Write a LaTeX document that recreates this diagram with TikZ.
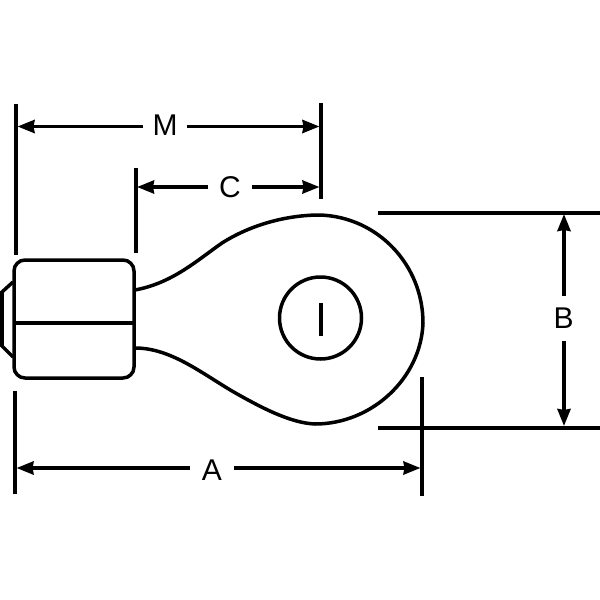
\documentclass[tikz,border=0pt]{standalone}
\usepackage{fontspec}
\setmainfont{Liberation Sans}
\usetikzlibrary{arrows.meta,positioning}

\begin{document}
\begin{tikzpicture}[x=1pt,y=-1pt,line width=3.5pt,
                    >={Stealth[length=17pt,width=13pt,inset=1pt]}]
  \tikzstyle{dimline}=[->,shorten >=0pt]
  \tikzstyle{extline}=[line width=3.2pt]
  \tikzstyle{dimlabel}=[inner sep=0pt,minimum width=40pt,minimum height=30pt,font=\fontsize{30}{30}\selectfont]

  \useasboundingbox (0,0) rectangle (600,600);

  % terminal outline
  \coordinate (T1) at (135,290);
  \coordinate (T2) at (135,348);
  \draw (T1) .. controls (172,283) and (195,262) .. (222,243)
             .. controls (252,224) and (288,215) .. (320,215)
             .. controls (378,217) and (423,265) .. (423,323)
             .. controls (421,378) and (372,424) .. (315,424)
             .. controls (290,423) and (260,407) .. (232,391)
             .. controls (200,372) and (170,348) .. (T2);

  % barrel
  \node[draw,rounded corners=11pt,minimum width=120pt,minimum height=118pt,inner sep=0pt] (barrel) at (74,319) {};
  \coordinate (midL) at (14,323);
  \coordinate (midR) at (134,323);
  \draw (midL) -- (midR);
  \coordinate (nub1) at (13,282);
  \coordinate (nub2) at (2,292);
  \coordinate (nub3) at (2,346);
  \coordinate (nub4) at (13,357);
  \draw (nub1) -- (nub2) -- (nub3) -- (nub4);

  % hole
  \node[draw,circle,minimum size=82pt,inner sep=0pt] (hole) at (320.5,318) {};
  \coordinate (slitU) at (321,303);
  \coordinate (slitD) at (321,336);
  \draw (slitU) -- (slitD);

  % extension lines
  \coordinate (Mu) at (16,104);
  \coordinate (Md) at (16,255);
  \coordinate (Ru) at (321,103);
  \coordinate (Rd) at (321,199);
  \coordinate (Cu) at (136,168);
  \coordinate (Cd) at (136,253);
  \coordinate (Au) at (15,391);
  \coordinate (Ad) at (15,494);
  \coordinate (Zu) at (422,377);
  \coordinate (Zd) at (422,496);
  \coordinate (Bl) at (378,213);
  \coordinate (Br) at (600,213);
  \coordinate (Dl) at (378,428);
  \coordinate (Dr) at (600,428);
  \draw[extline] (Mu) -- (Md);
  \draw[extline] (Ru) -- (Rd);
  \draw[extline] (Cu) -- (Cd);
  \draw[extline] (Au) -- (Ad);
  \draw[extline] (Zu) -- (Zd);
  \draw[extline] (Bl) -- (Br);
  \draw[extline] (Dl) -- (Dr);

  % dimensions
  \node[dimlabel] (M) at (165,125) {M};
  \coordinate (Ml) at (17.5,126.5);
  \coordinate (Mr) at (319.5,126.5);
  \draw[dimline] (M.west |- Ml) -- (Ml);
  \draw[dimline] (M.east |- Mr) -- (Mr);

  \node[dimlabel] (C) at (230,187) {C};
  \coordinate (Cl) at (137,187);
  \coordinate (Cr) at (319.5,187);
  \draw[dimline] (C.west |- Cl) -- (Cl);
  \draw[dimline] (C.east |- Cr) -- (Cr);

  \node[dimlabel] (A) at (212,470) {A};
  \coordinate (Al) at (16.5,468);
  \coordinate (Ar) at (420.5,468);
  \draw[dimline] (A.west |- Al) -- (Al);
  \draw[dimline] (A.east |- Ar) -- (Ar);

  \node[dimlabel,minimum height=41pt] (B) at (563.5,318.5) {B};
  \coordinate (Bu) at (564,214);
  \coordinate (Bd) at (564,426);
  \draw[dimline] (B.north -| Bu) -- (Bu);
  \draw[dimline] (B.south -| Bd) -- (Bd);
\end{tikzpicture}
\end{document}
